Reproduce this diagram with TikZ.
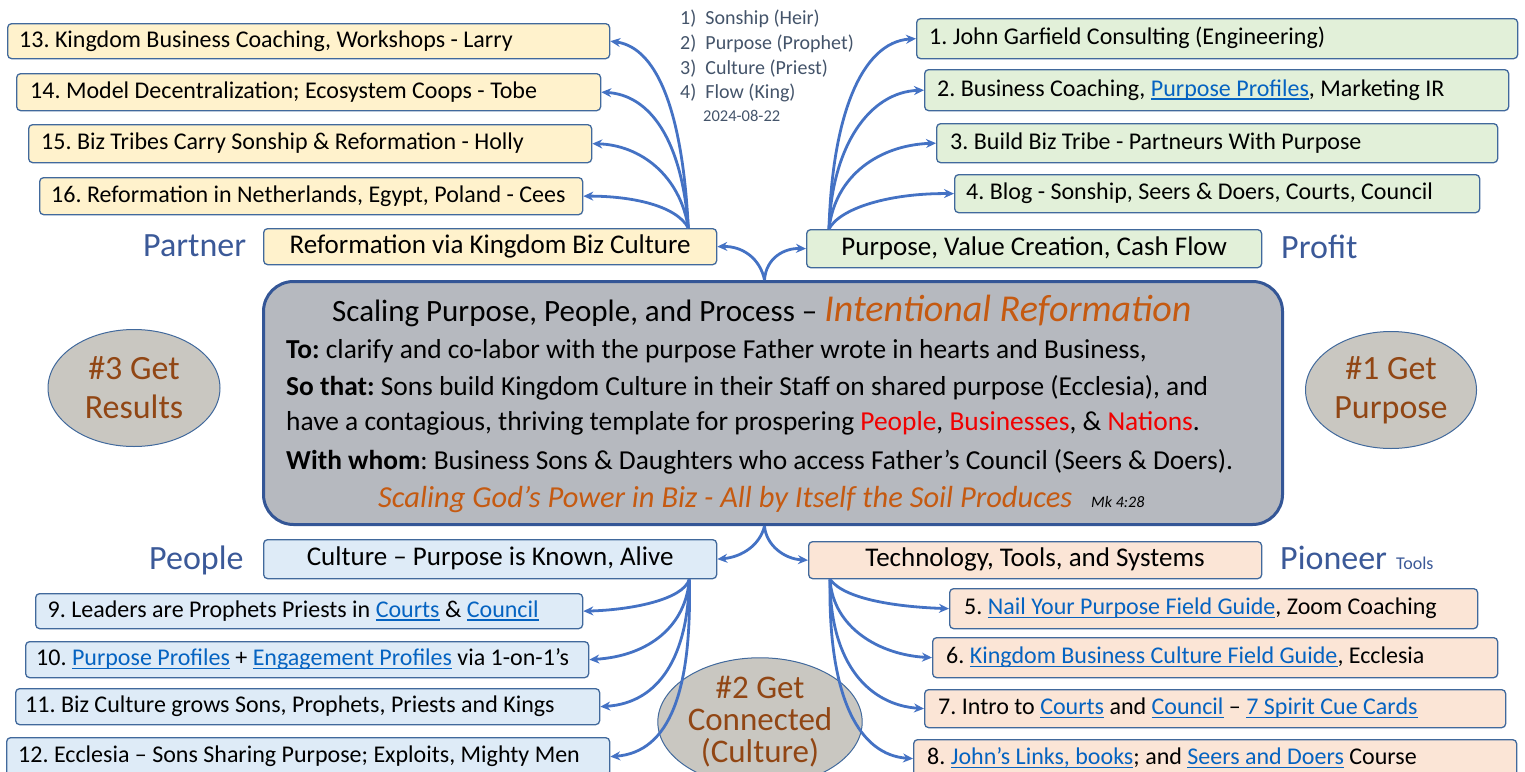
\documentclass[tikz,border=0pt]{standalone}
\usepackage{fontspec}
\setmainfont{Carlito}
\usetikzlibrary{arrows.meta,shapes.geometric}
\definecolor{arrc}{RGB}{68,114,196}
\definecolor{bordc}{RGB}{65,105,156}
\definecolor{yelf}{RGB}{255,242,204}
\definecolor{grnf}{RGB}{226,240,217}
\definecolor{bluf}{RGB}{222,235,247}
\definecolor{pchf}{RGB}{251,229,214}
\definecolor{ctrf}{RGB}{182,185,191}
\definecolor{ctrb}{RGB}{52,86,150}
\definecolor{ellf}{RGB}{201,199,193}
\definecolor{brwn}{RGB}{145,70,20}
\definecolor{orng}{RGB}{197,90,17}
\definecolor{lblc}{RGB}{59,89,152}
\definecolor{lstc}{RGB}{68,84,106}
\definecolor{linkc}{RGB}{5,99,193}
\definecolor{redc}{RGB}{240,0,0}
\newcommand\lnk[1]{\leavevmode{\color{linkc}\setbox0\hbox{#1}\rlap{\rule[-3.5pt]{\wd0}{1.2pt}}\box0}}
\newcommand\fsz[1]{\fontsize{#1}{#1}\selectfont}
\frenchspacing
\begin{document}
\begin{tikzpicture}[x=1pt,y=-1pt,
 box/.style={draw=bordc, line width=1.3pt, rounded corners=4pt, inner sep=0pt, anchor=north west},
 txt/.style={inner sep=0pt, font=\fsz{24}, text height=17pt, text depth=5pt, anchor=west},
 subtxt/.style={inner sep=0pt, font=\fsz{27}, text height=19pt, text depth=6pt, anchor=center},
 lbl/.style={inner sep=0pt, anchor=base west, font=\fsz{34}, text=lblc},
 lst/.style={inner sep=0pt, anchor=base west, font=\fsz{20}, text=lstc},
 ell/.style={ellipse, draw=bordc, line width=1pt, fill=ellf, text=brwn, align=center, inner sep=0pt},
 arr/.style={draw=arrc, line width=2.8pt, -{Stealth[length=10pt,width=9pt]}},
 body/.style={inner sep=0pt, anchor=base west, font=\fsz{27.4}},
]
\useasboundingbox (0,0) rectangle (1525,771);

% central box
\node[draw=ctrb, line width=3pt, fill=ctrf, rounded corners=30pt, minimum width=1019pt, minimum height=243pt, inner sep=0pt, anchor=north west] (ctr) at (262,280) {};
\node[body, font=\fsz{31}] (ct0) at (332,321) {Scaling Purpose, People, and Process – {\color{orng}\itshape\fsz{38}Intentional Reformation}};
\node[body] (ct1) at (286,358) {\textbf{To:} clarify and co-labor with the purpose Father wrote in hearts and Business,};
\node[body] (ct2) at (286,395) {\textbf{So that:} Sons build Kingdom Culture in their Staff on shared purpose (Ecclesia), and};
\node[body] (ct3) at (286,430) {have a contagious, thriving template for prospering {\color{redc}People}, {\color{redc}Businesses}, \& {\color{redc}Nations}.};
\node[body] (ct4) at (286,469) {\textbf{With whom}: Business Sons \& Daughters who access Father’s Council (Seers \& Doers).};
\node[body, font=\itshape\fsz{30.5}, text=orng] (ct5) at (378,507) {Scaling God’s Power in Biz - All by Itself the Soil Produces};
\node[inner sep=0pt, anchor=base west, font=\itshape\fsz{16}] (mk) at (1091,507) {Mk 4:28};

% top-left
\node[box, fill=yelf, minimum width=602pt, minimum height=35pt] (b13) at (7,23) {};
\node[txt] (t13) at ([xshift=12pt]b13.west) {13. Kingdom Business Coaching, Workshops - Larry};
\node[box, fill=yelf, minimum width=584pt, minimum height=37pt] (b14) at (16,73) {};
\node[txt] (t14) at ([xshift=14pt]b14.west) {14. Model Decentralization; Ecosystem Coops - Tobe};
\node[box, fill=yelf, minimum width=563pt, minimum height=38pt] (b15) at (28,124) {};
\node[txt] (t15) at ([xshift=13pt]b15.west) {15. Biz Tribes Carry Sonship \& Reformation - Holly};
\node[box, fill=yelf, minimum width=543pt, minimum height=37pt] (b16) at (39,177) {};
\node[txt] (t16) at ([xshift=12pt]b16.west) {16. Reformation in Netherlands, Egypt, Poland - Cees};
\node[box, fill=yelf, minimum width=453pt, minimum height=36pt] (bref) at (263,228) {};
\node[subtxt] (tref) at (bref.center) {Reformation via Kingdom Biz Culture};
\node[lbl] (lpart) at (143,256) {Partner};

% top list
\node[lst] (l1) at (680,24) {1)\ \ Sonship (Heir)};
\node[lst] (l2) at (680,49) {2)\ \ Purpose (Prophet)};
\node[lst] (l3) at (680,74) {3)\ \ Culture (Priest)};
\node[lst] (l4) at (680,98) {4)\ \ Flow (King)};
\node[lst, font=\fsz{16.5}] (ldate) at (703,121) {2024-08-22};

% top-right
\node[box, fill=grnf, minimum width=601pt, minimum height=40pt] (b1) at (916,18) {};
\node[txt] (t1) at ([xshift=13pt]b1.west) {1. John Garfield Consulting (Engineering)};
\node[box, fill=grnf, minimum width=584pt, minimum height=41pt] (b2) at (924,69) {};
\node[txt] (t2) at ([xshift=13pt]b2.west) {2. Business Coaching, \lnk{Purpose Profiles}, Marketing IR};
\node[box, fill=grnf, minimum width=561pt, minimum height=39pt] (b3) at (936,123) {};
\node[txt] (t3) at ([xshift=14pt]b3.west) {3. Build Biz Tribe - Partneurs With Purpose};
\node[box, fill=grnf, minimum width=525pt, minimum height=38pt] (b4) at (954,174) {};
\node[txt] (t4) at ([xshift=12pt]b4.west) {4. Blog - Sonship, Seers \& Doers, Courts, Council};
\node[box, fill=grnf, minimum width=455pt, minimum height=38pt] (bpur) at (806,229) {};
\node[subtxt] (tpur) at (bpur.center) {Purpose, Value Creation, Cash Flow};
\node[lbl] (lprof) at (1281,258) {Profit};

% bottom-left
\node[box, fill=bluf, minimum width=453pt, minimum height=39pt] (bcul) at (263,539) {};
\node[subtxt] (tcul) at (bcul.center) {Culture – Purpose is Known, Alive};
\node[lbl] (lpeop) at (149,569) {People};
\node[box, fill=bluf, minimum width=547pt, minimum height=35pt] (b9) at (35,593) {};
\node[txt] (t9) at ([xshift=12.5pt]b9.west) {9. Leaders are Prophets Priests in \lnk{Courts} \& \lnk{Council}};
\node[box, fill=bluf, minimum width=563pt, minimum height=36pt] (b10) at (25,641) {};
\node[txt] (t10) at ([xshift=11pt]b10.west) {10. \lnk{Purpose Profiles} + \lnk{Engagement Profiles} via 1-on-1’s};
\node[box, fill=bluf, minimum width=584pt, minimum height=36pt] (b11) at (15,688) {};
\node[txt] (t11) at ([xshift=10pt]b11.west) {11. Biz Culture grows Sons, Prophets, Priests and Kings};
\node[box, fill=bluf, minimum width=603pt, minimum height=38pt] (b12) at (6,737) {};
\node[txt] (t12) at ([xshift=12pt]b12.west) {12. Ecclesia – Sons Sharing Purpose; Exploits, Mighty Men};

% bottom-right
\node[box, fill=pchf, minimum width=453pt, minimum height=37pt] (btec) at (808,541) {};
\node[subtxt] (ttec) at (btec.center) {Technology, Tools, and Systems};
\node[lbl] (lpion) at (1280,569) {Pioneer};
\node[lbl, font=\fsz{18}] (ltool) at (1396,569) {Tools};
\node[box, fill=pchf, minimum width=528pt, minimum height=40pt] (b5) at (949,588) {};
\node[txt] (t5) at ([xshift=15pt]b5.west) {5. \lnk{Nail Your Purpose Field Guide}, Zoom Coaching};
\node[box, fill=pchf, minimum width=565pt, minimum height=40pt] (b6) at (932,637) {};
\node[txt] (t6) at ([xshift=14pt]b6.west) {6. \lnk{Kingdom Business Culture Field Guide}, Ecclesia};
\node[box, fill=pchf, minimum width=581pt, minimum height=38pt] (b7) at (924,689) {};
\node[txt] (t7) at ([xshift=14pt]b7.west) {7. Intro to \lnk{Courts} and \lnk{Council} – \lnk{7 Spirit Cue Cards}};
\node[box, fill=pchf, minimum width=603pt, minimum height=38pt] (b8) at (913,739) {};
\node[txt] (t8) at ([xshift=14pt]b8.west) {8. \lnk{John’s Links, books}; and \lnk{Seers and Doers} Course};

% ellipses
\node[ell, minimum width=172pt, minimum height=117pt, font={\fontsize{34}{39}\selectfont}] (e3) at (134,388) {\#3 Get\\Results};
\node[ell, minimum width=171pt, minimum height=117pt, font={\fontsize{34}{39}\selectfont}] (e1) at (1391,390) {\#1 Get\\Purpose};
\node[ell, minimum width=170pt, minimum height=114pt, font={\fontsize{33}{32}\selectfont}] (e2) at (760,722) {\#2 Get\\Connected\\(Culture)};

% connectors center
\draw[arr] ([xshift=-8.5pt]ctr.north) .. controls (760,258) and (742,246) .. (bref.east);
\draw[arr] ([xshift=-8.5pt]ctr.north) .. controls (766,258) and (784,248) .. (bpur.west);
\draw[arr] ([xshift=-8.5pt]ctr.south) .. controls (760,545) and (742,557) .. (bcul.east);
\draw[arr] ([xshift=-8.5pt]ctr.south) .. controls (766,545) and (784,559) .. (btec.west);

% top-left fan
\draw[arr] ([xshift=-29pt]bref.north east) .. controls (683,120) and (660,48) .. (b13.east);
\draw[arr] ([xshift=-29pt]bref.north east) .. controls (682,140) and (650,95) .. (b14.east);
\draw[arr] ([xshift=-29pt]bref.north east) .. controls (680,175) and (640,145) .. (b15.east);
\draw[arr] ([xshift=-29pt]bref.north east) .. controls (676,205) and (630,196) .. (b16.east);

% top-right fan
\draw[arr] ([xshift=23pt]bpur.north west) .. controls (832,120) and (860,42) .. (b1.west);
\draw[arr] ([xshift=23pt]bpur.north west) .. controls (832,145) and (870,92) .. (b2.west);
\draw[arr] ([xshift=23pt]bpur.north west) .. controls (835,175) and (880,145) .. (b3.west);
\draw[arr] ([xshift=23pt]bpur.north west) .. controls (840,208) and (890,193) .. (b4.west);

% bottom-left fan
\draw[arr] ([xshift=-28pt]bcul.south east) .. controls (683,600) and (630,610) .. (b9.east);
\draw[arr] ([xshift=-28pt]bcul.south east) .. controls (686,625) and (650,656) .. (b10.east);
\draw[arr] ([xshift=-28pt]bcul.south east) .. controls (688,655) and (660,703) .. (b11.east);
\draw[arr] ([xshift=-28pt]bcul.south east) .. controls (692,690) and (670,752) .. (b12.east);

% bottom-right fan
\draw[arr] ([xshift=22pt]btec.south west) .. controls (845,600) and (900,607) .. (b5.west);
\draw[arr] ([xshift=22pt]btec.south west) .. controls (833,628) and (880,655) .. (b6.west);
\draw[arr] ([xshift=22pt]btec.south west) .. controls (830,665) and (870,705) .. (b7.west);
\draw[arr] ([xshift=22pt]btec.south west) .. controls (828,700) and (860,755) .. (b8.west);
\end{tikzpicture}
\end{document}
